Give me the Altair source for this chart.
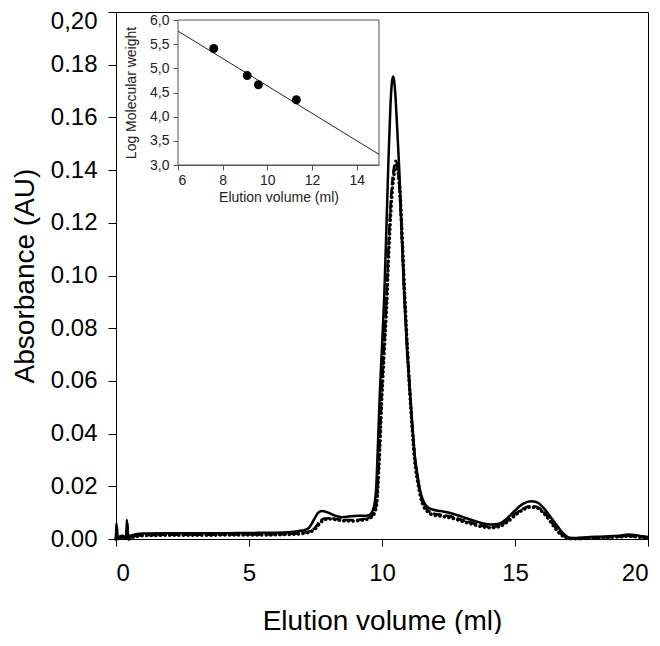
import altair as alt
import pandas as pd

FONT = "Liberation Sans"

# ---------------- main chromatogram data ----------------
solid_x = [0.0, 0.02, 0.05, 0.12, 0.25, 0.38, 0.41, 0.44, 0.55, 0.75,
           1.0, 2.0, 3.0, 4.0, 5.0, 6.0, 6.6, 7.0, 7.25, 7.45,
           7.6, 7.75, 7.95, 8.2, 8.5, 8.8, 9.1, 9.4, 9.55, 9.65,
           9.72, 9.78, 9.83, 9.92, 10.0, 10.08, 10.16, 10.24, 10.32, 10.37,
           10.41, 10.45, 10.5, 10.57, 10.65, 10.74, 10.84, 10.94, 11.05, 11.15,
           11.24, 11.34, 11.43, 11.55, 11.7, 11.9, 12.2, 12.6, 13.0, 13.4,
           13.8, 14.1, 14.4, 14.7, 15.0, 15.3, 15.6, 15.85, 16.1, 16.35,
           16.6, 16.85, 17.05, 17.3, 17.7, 18.2, 18.7, 19.0, 19.25, 19.5,
           19.8, 20.0]
solid_y = [0.0, 0.006, 0.0, 0.0008, 0.0012, 0.0005, 0.0073, 0.0003, 0.0012, 0.0018,
           0.0021, 0.0022, 0.0022, 0.0022, 0.0023, 0.0024, 0.0027, 0.0032, 0.0042, 0.0075,
           0.0100, 0.0106, 0.0101, 0.0090, 0.0083, 0.0086, 0.0088, 0.0088, 0.0093, 0.0108,
           0.0135, 0.019, 0.031, 0.056, 0.073, 0.091, 0.116, 0.143, 0.165, 0.173,
           0.1755, 0.1745, 0.169, 0.156, 0.140, 0.116, 0.091, 0.072, 0.056, 0.042,
           0.031, 0.024, 0.0185, 0.0145, 0.0122, 0.0112, 0.0106, 0.0098, 0.0085, 0.0071,
           0.0059, 0.0055, 0.0058, 0.0078, 0.0108, 0.0133, 0.0143, 0.0138, 0.0115, 0.0082,
           0.0048, 0.0018, 0.0005, 0.0004, 0.0007, 0.0009, 0.0011, 0.0013, 0.0017, 0.0015,
           0.0010, 0.0008]

other_x = [0.0, 0.03, 0.06, 0.15, 0.3, 0.4, 0.43, 0.46, 0.6, 0.8,
           1.0, 2.0, 3.0, 4.0, 5.0, 6.0, 6.6, 7.0, 7.3, 7.5,
           7.65, 7.8, 8.0, 8.3, 8.6, 8.9, 9.2, 9.45, 9.62, 9.72,
           9.8, 9.89, 9.99, 10.08, 10.17, 10.25, 10.33, 10.4, 10.46, 10.51,
           10.56, 10.62, 10.68, 10.76, 10.86, 10.96, 11.05, 11.15, 11.24, 11.34,
           11.43, 11.55, 11.7, 11.9, 12.2, 12.6, 13.0, 13.4, 13.8, 14.1,
           14.4, 14.7, 15.0, 15.3, 15.6, 15.85, 16.1, 16.35, 16.6, 16.85,
           17.05, 17.3, 17.7, 18.2, 18.7, 19.0, 19.25, 19.5, 19.8, 20.0]
dashed_y = [0.0, 0.0045, 0.0, 0.0006, 0.0008, 0.0, 0.006, 0.0, 0.0008, 0.0012,
            0.0015, 0.0016, 0.0016, 0.0017, 0.0017, 0.0018, 0.0020, 0.0023, 0.0030, 0.0045,
            0.0065, 0.0077, 0.0079, 0.0076, 0.0072, 0.0072, 0.0074, 0.0079, 0.0088, 0.0105,
            0.0145, 0.031, 0.056, 0.074, 0.091, 0.112, 0.128, 0.137, 0.1415, 0.1435,
            0.1425, 0.138, 0.129, 0.112, 0.090, 0.071, 0.056, 0.041, 0.030, 0.023,
            0.0178, 0.0135, 0.0112, 0.0098, 0.0092, 0.0085, 0.0073, 0.0061, 0.0050, 0.0046,
            0.0050, 0.0068, 0.0094, 0.0115, 0.0125, 0.0121, 0.0100, 0.0068, 0.0034, 0.0010,
            0.0003, 0.0002, 0.0004, 0.0006, 0.0008, 0.0010, 0.0012, 0.0010, 0.0007, 0.0005]
dotted_y = [0.0, 0.002, 0.0, 0.0004, 0.0006, 0.0, 0.003, 0.0, 0.0006, 0.001,
            0.0013, 0.0014, 0.0014, 0.0015, 0.0015, 0.0016, 0.0018, 0.0021, 0.0027, 0.0040,
            0.0058, 0.0072, 0.0076, 0.0073, 0.0069, 0.0068, 0.0071, 0.0076, 0.0085, 0.0100,
            0.0135, 0.029, 0.053, 0.071, 0.088, 0.108, 0.124, 0.134, 0.139, 0.1415,
            0.1418, 0.1385, 0.131, 0.114, 0.091, 0.071, 0.055, 0.040, 0.029, 0.022,
            0.0170, 0.0128, 0.0105, 0.0092, 0.0087, 0.0080, 0.0068, 0.0056, 0.0046, 0.0043,
            0.0047, 0.0064, 0.0090, 0.0111, 0.0121, 0.0117, 0.0096, 0.0064, 0.0030, 0.0008,
            0.0001, 0.0001, 0.0003, 0.0005, 0.0007, 0.0009, 0.0011, 0.0009, 0.0006, 0.0004]

x_ticks = [0, 5, 10, 15, 20]
y_ticks = [0.0, 0.02, 0.04, 0.06, 0.08, 0.10, 0.12, 0.14, 0.16, 0.18, 0.20]

# ---------------- inset calibration data ----------------
inset_vol = [7.6, 9.1, 9.6, 11.3]
inset_logmw = [5.41, 4.85, 4.66, 4.35]
fit_vol = [6.0, 15.0]
fit_logmw = [5.77, 3.22]
inset_x_domain = [6, 15]
inset_y_domain = [3.0, 6.0]
inset_x_ticks = [6, 8, 10, 12, 14]
inset_y_ticks = [3.0, 3.5, 4.0, 4.5, 5.0, 5.5, 6.0]

PLOT_H = 527

# ---------------- main chart ----------------
xs = alt.Scale(domain=[0, 20], nice=False, zero=False)
ys = alt.Scale(domain=[0, 0.2], nice=False)
x_axis = alt.Axis(values=x_ticks, title="Elution volume (ml)", grid=False,
                  tickSize=7, labelFontSize=24, labelPadding=15,
                  titleFontSize=28, titlePadding=22, titleFontWeight="normal",
                  labelExpr="format(datum.value, 'd')")
y_axis = alt.Axis(values=y_ticks, title="Absorbance (AU)", grid=False,
                  tickSize=8, labelFontSize=24, labelPadding=11,
                  titleFontSize=28, titlePadding=11, titleFontWeight="normal",
                  labelOffset={"condition": {"test": "datum.value > 0.199", "value": 9}, "value": 0},
                  labelExpr="datum.value > 0.199 ? '0,20' : format(datum.value, '.2f')")

def curve(xv, yv, **mk):
    df = pd.DataFrame({"x": xv, "y": yv})
    return alt.Chart(df).mark_line(color="black", interpolate="monotone", **mk).encode(
        x=alt.X("x:Q", scale=xs, axis=x_axis),
        y=alt.Y("y:Q", scale=ys, axis=y_axis),
        order="x:Q",
    )

solid = curve(solid_x, solid_y, strokeWidth=2.5)
dashed = curve(other_x, dashed_y, strokeWidth=2.6, strokeDash=[9, 3])
dotted = curve(other_x, dotted_y, strokeWidth=3.6, strokeDash=[0.1, 4.5], strokeCap="round")
main = alt.layer(solid, dashed, dotted)

# ---------------- inset ----------------
ixs = alt.Scale(domain=inset_x_domain, range=[62, 263], nice=False, zero=False)
iys = alt.Scale(domain=inset_y_domain, range=[153, 8], nice=False, zero=False)
ix_axis = alt.Axis(orient="bottom", offset=-(PLOT_H - 153), values=inset_x_ticks, grid=False,
                   title="Elution volume (ml)", tickSize=5, labelFontSize=14,
                   labelPadding=3, titleFontSize=14, titlePadding=3,
                   titleFontWeight="normal", domainColor="#555", tickColor="#555",
                   labelColor="#222", titleColor="#222")
iy_axis = alt.Axis(orient="left", offset=-62, values=inset_y_ticks, grid=False,
                   title="Log Molecular weight", tickSize=5, labelFontSize=14,
                   labelPadding=4, titleFontSize=14, titlePadding=11,
                   titleFontWeight="normal", domainColor="#555", tickColor="#555",
                   labelColor="#222", titleColor="#222",
                   labelExpr="replace(format(datum.value, '.1f'), '.', ',')")

frame_df = pd.DataFrame({"x": [inset_x_domain[0]], "x2": [inset_x_domain[1]],
                         "y": [inset_y_domain[0]], "y2": [inset_y_domain[1]]})
frame = alt.Chart(frame_df).mark_rect(fill="white", stroke="#555", strokeWidth=1).encode(
    x=alt.X("x:Q", scale=ixs, axis=ix_axis), x2="x2:Q",
    y=alt.Y("y:Q", scale=iys, axis=iy_axis), y2="y2:Q",
)
fit = alt.Chart(pd.DataFrame({"x": fit_vol, "y": fit_logmw})).mark_line(
    color="#222", strokeWidth=1).encode(
    x=alt.X("x:Q", scale=ixs, axis=ix_axis),
    y=alt.Y("y:Q", scale=iys, axis=iy_axis),
)
pts = alt.Chart(pd.DataFrame({"x": inset_vol, "y": inset_logmw})).mark_circle(
    color="black", opacity=1, size=80).encode(
    x=alt.X("x:Q", scale=ixs, axis=ix_axis),
    y=alt.Y("y:Q", scale=iys, axis=iy_axis),
)
inset = alt.layer(frame, fit, pts)

chart = alt.layer(main, inset).resolve_scale(
    x="independent", y="independent"
).properties(
    width=532, height=PLOT_H,
    autosize=alt.AutoSizeParams(type="none"),
    padding={"left": 108, "top": 4, "right": 4, "bottom": 95},
).configure_view(
    stroke="black", strokeWidth=1
).configure_axis(
    domainColor="black", tickColor="black", labelColor="black", titleColor="black",
    labelFont=FONT, titleFont=FONT, grid=False
)

chart.save("out.html", embed_options={"renderer": "svg", "actions": False})
